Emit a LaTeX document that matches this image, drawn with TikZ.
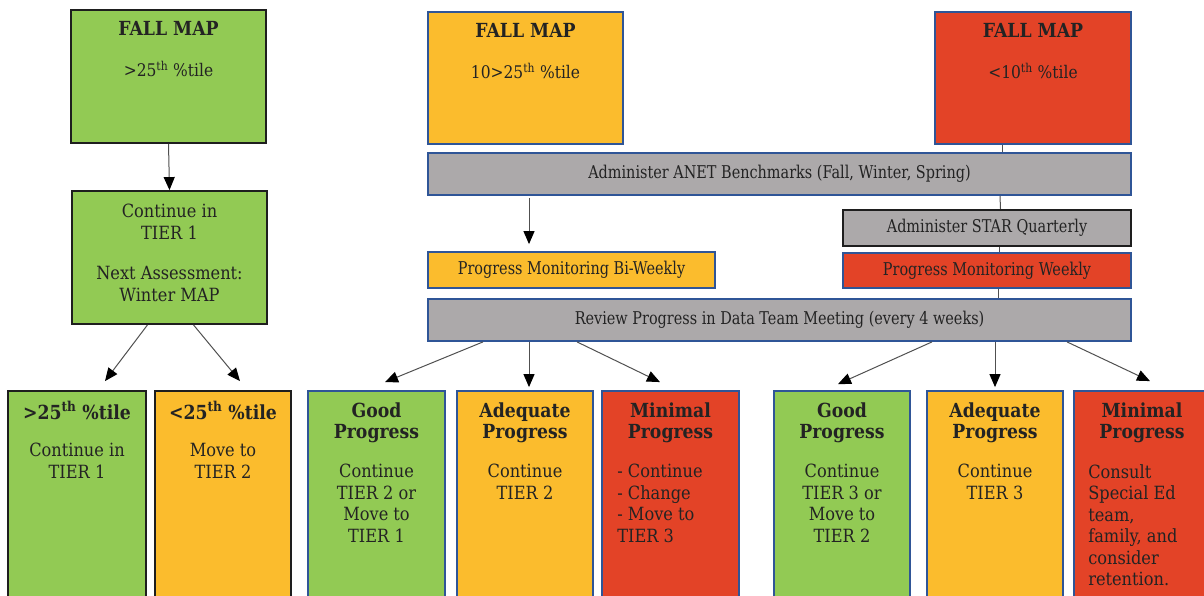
\documentclass[tikz,border=0pt]{standalone}
\usepackage{fontspec}
\setmainfont{DejaVu Serif}
\newfontfamily\barfont[FakeStretch=0.82]{DejaVu Serif}
\newfontfamily\boxfont[FakeStretch=0.89]{DejaVu Serif}
\usetikzlibrary{arrows.meta}
\definecolor{cgreen}{RGB}{146,202,84}
\definecolor{corange}{RGB}{251,188,45}
\definecolor{cred}{RGB}{227,67,39}
\definecolor{cgray}{RGB}{172,169,170}
\definecolor{cblue}{RGB}{47,85,151}
\definecolor{cdark}{RGB}{30,30,30}
\definecolor{cline}{RGB}{80,80,80}
\definecolor{ctext}{RGB}{35,35,35}
\tikzset{
  box/.style={draw=cdark, line width=1.8pt, inner sep=0pt},
  bbox/.style={draw=cblue, line width=1.8pt, inner sep=0pt},
  txt/.style={inner sep=0pt, align=center, text=ctext, font=\boxfont\fontsize{18.2pt}{21.5pt}\selectfont},
  bartxt/.style={inner sep=0pt, align=center, text=ctext, font=\barfont\fontsize{17.6pt}{21.5pt}\selectfont},
  ltxt/.style={inner sep=0pt, align=left, text=ctext, font=\boxfont\fontsize{18.2pt}{21.5pt}\selectfont},
  arr/.style={draw=cline, line width=1pt, -{Triangle[width=11pt,length=13pt,color=black,fill=black]}},
  plain/.style={draw=cline, line width=1pt},
}
\newcommand{\thsup}{\textsuperscript{th}}
\newcommand{\bt}[1]{{\fontsize{19.4pt}{21.5pt}\selectfont\bfseries #1}}
\newcommand{\pct}[1]{{\fontsize{17.4pt}{21.5pt}\selectfont #1}}
\begin{document}
\begin{tikzpicture}[x=1pt,y=-1pt]
\useasboundingbox (0,0) rectangle (1204,596);
\clip (0,0) rectangle (1204,596);
% top boxes
\node[box, fill=cgreen, minimum width=195pt, minimum height=133pt] (fm1) at (168.5,76.5) {};
\node[txt, anchor=north] (fm1t) at ([yshift=-12pt]fm1.north) {\bt{FALL MAP}\\[19.5pt]\pct{>25\thsup{} \%tile}};
\node[bbox, fill=corange, minimum width=195pt, minimum height=132pt] (fm2) at (525.5,78) {};
\node[txt, anchor=north] (fm2t) at ([yshift=-12pt]fm2.north) {\bt{FALL MAP}\\[19.5pt]\pct{10>25\thsup{} \%tile}};
\node[bbox, fill=cred, minimum width=196pt, minimum height=132pt] (fm3) at (1033,78) {};
\node[txt, anchor=north] (fm3t) at ([yshift=-12pt]fm3.north) {\bt{FALL MAP}\\[19.5pt]\pct{<10\thsup{} \%tile}};
% left column
\node[box, fill=cgreen, minimum width=195pt, minimum height=133pt] (c1) at (169.5,257.5) {};
\node[txt, anchor=north] (c1t) at ([yshift=-14pt]c1.north) {Continue in\\TIER 1\\[19pt]Next Assessment:\\Winter MAP};
% bars
\node[bbox, fill=cgray, minimum width=703pt, minimum height=42pt] (anet) at (779.5,174) {};
\node[bartxt] (anett) at (anet) {Administer ANET Benchmarks (Fall, Winter, Spring)};
\node[box, line width=2.2pt, fill=cgray, minimum width=288pt, minimum height=36pt] (star) at (987,228) {};
\node[bartxt] (start) at (star) {Administer STAR Quarterly};
\node[bbox, fill=corange, minimum width=287pt, minimum height=36pt] (pmb) at (571.5,270) {};
\node[bartxt] (pmbt) at (pmb) {Progress Monitoring Bi-Weekly};
\node[bbox, fill=cred, minimum width=288pt, minimum height=35pt] (pmw) at (987,270.5) {};
\node[bartxt] (pmwt) at (pmw) {Progress Monitoring Weekly};
\node[bbox, fill=cgray, minimum width=703pt, minimum height=42pt] (rev) at (779.5,320) {};
\node[bartxt] (revt) at (rev) {Review Progress in Data Team Meeting (every 4 weeks)};
% bottom boxes
\node[box, fill=cgreen, minimum width=138pt, minimum height=219pt] (b1) at (77,500.5) {};
\node[txt, anchor=north] (b1t) at ([yshift=-11pt]b1.north) {\bt{>25\thsup{} \%tile}\\[16pt]Continue in\\TIER 1};
\node[box, fill=corange, minimum width=136pt, minimum height=219pt] (b2) at (223,500.5) {};
\node[txt, anchor=north] (b2t) at ([yshift=-11pt]b2.north) {\bt{<25\thsup{} \%tile}\\[16pt]Move to\\TIER 2};
\node[bbox, fill=cgreen, minimum width=137pt, minimum height=219pt] (b3) at (376.5,500.5) {};
\node[txt, anchor=north] (b3t) at ([yshift=-12pt]b3.north) {\bt{Good}\\\bt{Progress}\\[17.5pt]Continue\\TIER 2 or\\Move to\\TIER 1};
\node[bbox, fill=corange, minimum width=136pt, minimum height=219pt] (b4) at (525,500.5) {};
\node[txt, anchor=north] (b4t) at ([yshift=-12pt]b4.north) {\bt{Adequate}\\\bt{Progress}\\[17.5pt]Continue\\TIER 2};
\node[bbox, fill=cred, minimum width=137pt, minimum height=219pt] (b5) at (670.5,500.5) {};
\node[txt, anchor=north] (b5t) at ([yshift=-12pt]b5.north) {\bt{Minimal}\\\bt{Progress}};
\node[ltxt, anchor=north west] (b5b) at ([xshift=16pt,yshift=-74pt]b5.north west) {- Continue\\- Change\\- Move to\\TIER 3};
\node[bbox, fill=cgreen, minimum width=136pt, minimum height=219pt] (b6) at (842,500.5) {};
\node[txt, anchor=north] (b6t) at ([yshift=-12pt]b6.north) {\bt{Good}\\\bt{Progress}\\[17.5pt]Continue\\TIER 3 or\\Move to\\TIER 2};
\node[bbox, fill=corange, minimum width=136pt, minimum height=219pt] (b7) at (995,500.5) {};
\node[txt, anchor=north] (b7t) at ([yshift=-12pt]b7.north) {\bt{Adequate}\\\bt{Progress}\\[17.5pt]Continue\\TIER 3};
\node[bbox, fill=cred, minimum width=136pt, minimum height=219pt] (b8) at (1142,500.5) {};
\node[txt, anchor=north] (b8t) at ([yshift=-12pt]b8.north) {\bt{Minimal}\\\bt{Progress}};
\node[ltxt, anchor=north west] (b8b) at ([xshift=15pt,yshift=-74pt]b8.north west) {Consult\\Special Ed\\team,\\family, and\\consider\\retention.};
% connectors
\draw[arr] (fm1.south) -- (c1.north);
\draw[arr] ([xshift=-22pt]c1.south) -- ([xshift=28pt,yshift=9pt]b1.north);
\draw[arr] ([xshift=24pt]c1.south) -- ([xshift=17pt,yshift=9pt]b2.north);
\draw[plain] ([xshift=-31pt]fm3.south) -- ([xshift=222.5pt]anet.north);
\draw[plain] ([xshift=220.5pt]anet.south) -- ([xshift=13.5pt]star.north);
\draw[plain] ([xshift=12pt]star.south) -- ([xshift=12pt]pmw.north);
\draw[plain] ([xshift=11pt]pmw.south) -- ([xshift=218.5pt]rev.north);
\draw[arr] ([xshift=-250.5pt,yshift=-2pt]anet.south) -- ([xshift=-42.5pt,yshift=7pt]pmb.north);
\draw[arr] ([xshift=-296.5pt]rev.south) -- ([xshift=8.5pt,yshift=8pt]b3.north);
\draw[arr] ([xshift=-250.5pt]rev.south) -- ([xshift=4pt,yshift=3pt]b4.north);
\draw[arr] ([xshift=-202.5pt]rev.south) -- ([xshift=-10.5pt,yshift=8pt]b5.north);
\draw[arr] ([xshift=152.5pt]rev.south) -- ([xshift=-4pt,yshift=6pt]b6.north);
\draw[arr] ([xshift=215.5pt]rev.south) -- ([xshift=0pt,yshift=3pt]b7.north);
\draw[arr] ([xshift=287.5pt]rev.south) -- ([xshift=8pt,yshift=9pt]b8.north);
\end{tikzpicture}
\end{document}
